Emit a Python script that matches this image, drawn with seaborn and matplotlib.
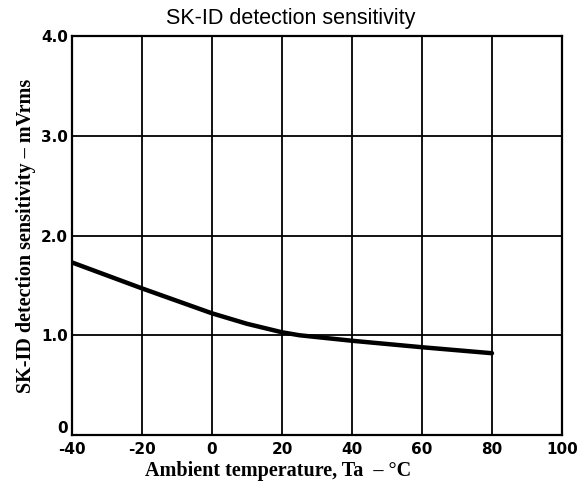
import matplotlib
matplotlib.use("Agg")
import matplotlib.pyplot as plt
import matplotlib.transforms as mtransforms
import seaborn as sns
import pandas as pd

temperature = [-40, -30, -20, -10, 0, 10, 20, 25, 40, 60, 80]
sensitivity = [1.73, 1.60, 1.47, 1.345, 1.22, 1.115, 1.03, 1.00, 0.945, 0.88, 0.82]
x_ticks = [-40, -20, 0, 20, 40, 60, 80, 100]
y_ticks = [0, 1, 2, 3, 4]
y_tick_labels = ["0", "1.0", "2.0", "3.0", "4.0"]

sns.set_theme(style="white")
plt.rcParams['font.family'] = ['DejaVu Sans']

df = pd.DataFrame({"t": temperature, "s": sensitivity})

fig = plt.figure(figsize=(5.82, 4.93), dpi=100)
ax = fig.add_axes([0.1237, 0.1176, 0.8419, 0.8094])

sns.lineplot(data=df, x="t", y="s", ax=ax, color="black", linewidth=3.2)

ax.set_xlim(-40, 100)
ax.set_ylim(0, 4)
ax.set_xticks(x_ticks)
ax.set_yticks(y_ticks)
ax.set_xticklabels([str(v) for v in x_ticks], fontsize=11, fontweight="bold")
ax.set_yticklabels(y_tick_labels, fontsize=11, fontweight="bold")
ax.grid(True, color="black", linewidth=1.3)
ax.set_axisbelow(True)
for s in ax.spines.values():
    s.set_color("black")
    s.set_linewidth(1.6)
ax.tick_params(axis="x", length=0, pad=5, colors="black")
ax.tick_params(axis="y", length=0, pad=3, colors="black")

# lift the "0" y tick label above the x tick labels, as in the original
lbl0 = ax.get_yticklabels()[0]
lbl0.set_transform(lbl0.get_transform() + mtransforms.ScaledTranslation(0, 6 / 72, fig.dpi_scale_trans))

ax.set_xlabel("Ambient temperature, Ta  \u2013 \u00b0C", family="Liberation Serif",
              fontsize=14.5, fontweight="bold", color="black")
ax.xaxis.set_label_coords(0.42, -0.065)
ax.set_ylabel("SK-ID detection sensitivity \u2013 mVrms", family="Liberation Serif",
              fontsize=14.5, fontweight="bold", color="black")
ax.yaxis.set_label_coords(-0.073, 0.5)
fig.text(0.5, 0.963, "SK-ID detection sensitivity", ha="center", va="center",
         family="Liberation Sans", fontsize=15.5, color="black")

fig.savefig("out.png", dpi=100)
